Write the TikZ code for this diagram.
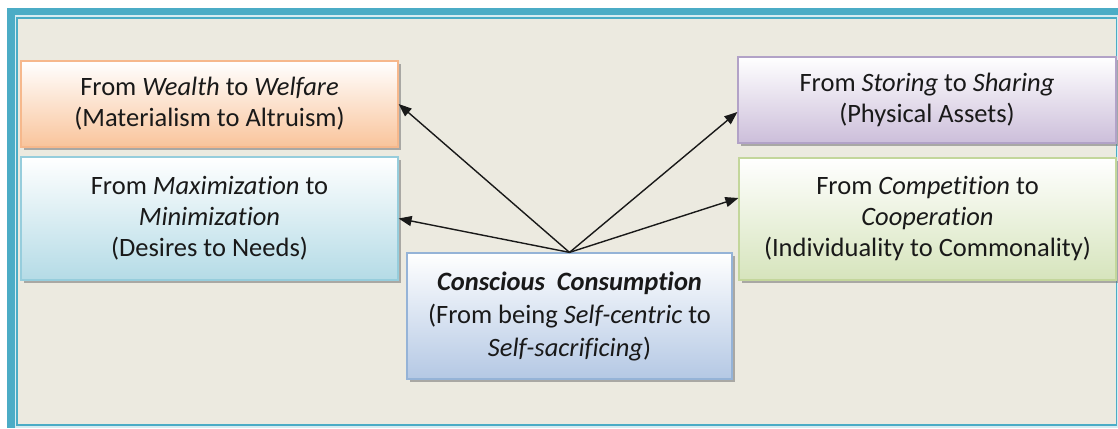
\documentclass[tikz,border=0pt]{standalone}
\usepackage{fontspec}
\setmainfont{Carlito}[Ligatures=NoCommon]
\usetikzlibrary{shadows,arrows.meta}

\definecolor{frameteal}{RGB}{75,172,198}
\definecolor{framelight}{RGB}{214,236,242}
\definecolor{paper}{RGB}{236,234,224}
\definecolor{peach}{RGB}{249,196,155}
\definecolor{peachline}{RGB}{246,184,140}
\definecolor{aqua}{RGB}{180,219,230}
\definecolor{aqualine}{RGB}{150,205,220}
\definecolor{steel}{RGB}{180,200,228}
\definecolor{steelline}{RGB}{149,179,215}
\definecolor{lilac}{RGB}{204,190,218}
\definecolor{lilacline}{RGB}{178,162,199}
\definecolor{sage}{RGB}{214,228,188}
\definecolor{sageline}{RGB}{195,214,155}
\definecolor{ink}{RGB}{25,25,25}

\tikzset{
  card/.style={draw, line width=1.2pt, align=center, text=ink, inner sep=0pt,
    font=\fontsize{26.5}{31}\selectfont,
    drop shadow={shadow xshift=3pt, shadow yshift=-3pt, fill=black!55, opacity=.55}},
  pointer/.style={draw=ink, line width=1.4pt, -{Triangle[length=13pt,width=10pt]}}
}

\begin{document}
\begin{tikzpicture}[x=1pt,y=-1pt]
\useasboundingbox (0,0) rectangle (1118,428);

% page frame
\fill[frameteal] (7,8) rectangle (1118,428);
\fill[framelight] (15,15) rectangle (1118,428);
\draw[frameteal, line width=1.6pt, fill=paper] (16.8,18) rectangle (1116.5,425);

% outer cards
\node[card, draw=peachline, top color=white, bottom color=peach,
      minimum width=377pt, minimum height=86pt] (wealth) at (209.5,104)
  {From \textit{Wealth} to \textit{Welfare}\\(Materialism to Altruism)};

\node[card, draw=aqualine, top color=white, bottom color=aqua,
      minimum width=377pt, minimum height=123pt] (maxim) at (209.5,218.5)
  {From \textit{Maximization} to\\\textit{Minimization}\\(Desires to Needs)};

\node[card, draw=lilacline, top color=white, bottom color=lilac,
      minimum width=378pt, minimum height=86pt] (store) at (927,100)
  {From \textit{Storing} to \textit{Sharing}\\(Physical Assets)};

\node[card, draw=sageline, top color=white, bottom color=sage,
      minimum width=377pt, minimum height=122pt] (compet) at (927.5,219)
  {From \textit{Competition} to\\\textit{Cooperation}\\(Individuality to Commonality)};

% central card
\node[card, draw=steelline, top color=white, bottom color=steel,
      minimum width=325pt, minimum height=126pt,
      font=\fontsize{26.5}{33}\selectfont] (core) at (569.5,316)
  {\textbf{\textit{Conscious\hspace{6pt} Consumption}}\\
   (From being \textit{Self-centric} to\\\textit{Self-sacrificing})};

% connectors
\draw[pointer] (core.north) -- (wealth.east);
\draw[pointer] (core.north) -- (maxim.east);
\draw[pointer] (core.north) -- ([yshift=-12pt]store.west);
\draw[pointer] (core.north) -- ([yshift=21pt]compet.west);
\end{tikzpicture}
\end{document}
